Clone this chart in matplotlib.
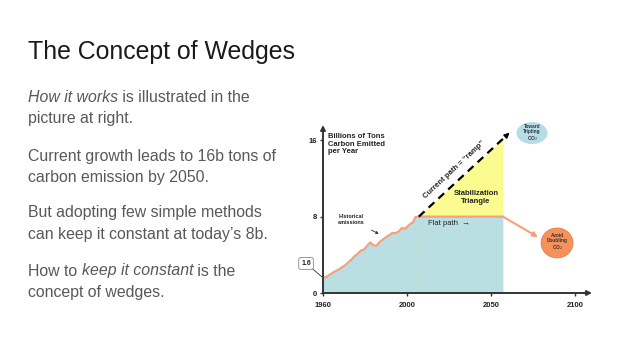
import numpy as np
import matplotlib
matplotlib.use('Agg')
from matplotlib import pyplot as plt
from matplotlib.patches import Ellipse

plt.rcParams['font.family'] = ['Liberation Sans', 'DejaVu Sans']

W, H = 638, 359

# Historical emissions (billions of tons carbon / year)
hist_years = [1960, 1961.5, 1963, 1964.5, 1966, 1967.5, 1969, 1970.5, 1972, 1973.5,
              1975, 1976.5, 1978, 1979.5, 1981, 1982.5, 1984, 1985.5, 1987, 1988.5,
              1990, 1991.5, 1993, 1994.5, 1996, 1997.5, 1999, 2000.5, 2002, 2003.5,
              2005, 2007]
hist_vals = [1.6, 1.65, 1.9, 2.1, 2.3, 2.45, 2.7, 2.9, 3.2, 3.5,
             3.85, 4.1, 4.45, 4.55, 4.95, 5.3, 5.0, 4.95, 5.35, 5.6,
             5.85, 6.05, 6.3, 6.25, 6.45, 6.8, 6.75, 7.0, 7.25, 7.4,
             7.95, 8.0]

flat_years = [2007, 2057]
flat_vals = [8, 8]
ramp_years = [2007, 2061]
ramp_vals = [8, 16.8]

x_ticks = [1960, 2000, 2050, 2100]
y_ticks = [0, 8, 16]

left_lines = [
    ([("How it works", 'italic'), (" is illustrated in the", 'normal')], 101.7),
    ([("picture at right.", 'normal')], 123.5),
    ([("Current growth leads to 16b tons of", 'normal')], 160.5),
    ([("carbon emission by 2050.", 'normal')], 182),
    ([("But adopting few simple methods", 'normal')], 217.5),
    ([("can keep it constant at today\u2019s 8b.", 'normal')], 239.5),
    ([("How to ", 'normal'), ("keep it constant", 'italic'), (" is the", 'normal')], 275.5),
    ([("concept of wedges.", 'normal')], 297.5),
]

fig = plt.figure(figsize=(W / 100, H / 100), dpi=100)

# background axes in pixel coordinates for slide text
bg = fig.add_axes([0, 0, 1, 1])
bg.set_xlim(0, W)
bg.set_ylim(H, 0)
bg.axis('off')

bg.text(28, 59.5, "The Concept of Wedges", fontsize=17.9, color='#1a1a1a', va='baseline')

for segs, base in left_lines:
    prev = None
    for txt, style in segs:
        if prev is None:
            prev = bg.text(28, base, txt, fontsize=11.4, color='#595959',
                           style=style, va='baseline')
        else:
            prev = bg.annotate(txt, xy=(1, 0), xycoords=prev, fontsize=11.4,
                               color='#595959', style=style, va='bottom', ha='left')

# chart axes
ax = fig.add_axes([323 / W, 66 / H, 269 / W, 168 / H])


def fwd(y):
    y = np.asarray(y, float)
    return np.where(y < 2000, (y - 1960) / 40, 1 + (y - 2000) / 50)


def inv(p):
    p = np.asarray(p, float)
    return np.where(p < 1, 1960 + 40 * p, 2000 + 50 * (p - 1))


ax.set_xscale('function', functions=(fwd, inv))
ax.set_xlim(1960, 2110)
ax.set_ylim(0, 17.6)
for s in ax.spines.values():
    s.set_visible(False)
ax.patch.set_alpha(0)

blue = '#b9dfe3'
yellow = '#fbfb90'
orange = '#f2a27c'

fill_x = hist_years + flat_years[1:]
fill_y = hist_vals + flat_vals[1:]
ax.fill_between(fill_x, 0, fill_y, color=blue, lw=0, zorder=1)

slope = (ramp_vals[1] - ramp_vals[0]) / (ramp_years[1] - ramp_years[0])
tri_x = np.array(flat_years, float)
tri_top = ramp_vals[0] + slope * (tri_x - ramp_years[0])
ax.fill_between(tri_x, flat_vals, tri_top, color=yellow, lw=0, zorder=1)

ax.plot(hist_years + flat_years[1:], hist_vals + flat_vals[1:], color=orange,
        lw=1.6, zorder=3, solid_joinstyle='round')
ax.plot([flat_years[0], flat_years[0]], [0, flat_vals[0]], color='#e4e070',
        lw=1, ls=':', zorder=2)

# ramp (dashed) with arrowhead
ramp_end = ramp_years[1] - 1.5
ax.plot([ramp_years[0], ramp_end],
        [ramp_vals[0], ramp_vals[0] + slope * (ramp_end - ramp_years[0])],
        color='black', lw=1.6, dashes=(3.5, 2.5), zorder=3)
ax.annotate('', xy=(ramp_years[1], ramp_vals[1]),
            xytext=(ramp_end, ramp_vals[0] + slope * (ramp_end - ramp_years[0])),
            arrowprops=dict(arrowstyle='-|>', color='black', lw=1.2,
                            mutation_scale=7, shrinkA=0, shrinkB=0), zorder=3)

# axes arrows
axc = '#333333'
ax.annotate('', xy=(1, 0), xytext=(0, 0), xycoords='axes fraction',
            arrowprops=dict(arrowstyle='-|>', color=axc, lw=1.4,
                            mutation_scale=7, shrinkA=0, shrinkB=0),
            annotation_clip=False, zorder=5)
ax.annotate('', xy=(0, 1), xytext=(0, 0), xycoords='axes fraction',
            arrowprops=dict(arrowstyle='-|>', color=axc, lw=1.4,
                            mutation_scale=7, shrinkA=0, shrinkB=0),
            annotation_clip=False, zorder=5)

ax.set_xticks(x_ticks)
ax.set_xticklabels([str(t) for t in x_ticks], fontsize=5.5, fontweight='bold', color='#222')
ax.set_yticks(y_ticks)
ax.set_yticklabels([str(t) for t in y_ticks], fontsize=5.5, fontweight='bold', color='#222')
ax.tick_params(axis='both', length=2.5, width=1, color=axc, pad=2)
ax.tick_params(axis='x', pad=4)

tk = dict(fontsize=5.5, fontweight='bold', color='#222')
ax.text(0.02, 0.95, "Billions of Tons\nCarbon Emitted\nper Year", transform=ax.transAxes,
        va='top', ha='left', linespacing=1.05, **tk)
ax.text(2028, 12.9, "Current path = \u201cramp\u201d", rotation=43, rotation_mode='anchor',
        ha='center', va='center', **tk)
ax.text(2041, 10.0, "Stabilization\nTriangle", ha='center', va='center',
        linespacing=1.1, **tk)
ax.text(2012.3, 7.3, "Flat path  \u2192", ha='left', va='center', fontsize=5.5, color='#222')

ax.annotate("Historical\nemissions", xy=(1986.5, 6.2), xytext=(1973.5, 7.7),
            ha='center', va='center', fontsize=4, fontweight='bold', color='#222',
            linespacing=1.1,
            arrowprops=dict(arrowstyle='->', color='#222', lw=0.6,
                            shrinkA=4, shrinkB=0, mutation_scale=4))

ax.annotate("1.6", xy=(1960, 1.6), xytext=(-0.063, 0.176), textcoords='axes fraction',
            ha='center', va='center', fontsize=5, fontweight='bold', color='#222',
            bbox=dict(boxstyle='round,pad=0.35,rounding_size=0.3', fc='white',
                      ec='#888', lw=0.6),
            arrowprops=dict(arrowstyle='-', color='#333', lw=0.6, shrinkA=0, shrinkB=1),
            annotation_clip=False)

# target ellipses
ax.add_patch(Ellipse((0.777, 0.952), 31 / 269, 22 / 168, transform=ax.transAxes,
                     fc='#b4dde6', ec='none', clip_on=False, zorder=4))
ax.text(0.777, 0.952, "Toward\nTripling\nCO$_2$", transform=ax.transAxes, ha='center',
        va='center', fontsize=3.4, fontweight='bold', color='#333', linespacing=1.0,
        zorder=5)
ax.add_patch(Ellipse((0.870, 0.298), 32 / 269, 30 / 168, transform=ax.transAxes,
                     fc='#f6915c', ec='#e07a45', lw=0.5, clip_on=False, zorder=4))
ax.text(0.870, 0.298, "Avoid\nDoubling\nCO$_2$", transform=ax.transAxes, ha='center',
        va='center', fontsize=3.4, fontweight='bold', color='#333', linespacing=1.0,
        zorder=5)

ax.annotate('', xy=(0.799, 0.333), xycoords='axes fraction',
            xytext=(flat_years[1], flat_vals[1]), textcoords='data',
            arrowprops=dict(arrowstyle='-|>', color=orange, lw=1.5,
                            mutation_scale=7, shrinkA=0, shrinkB=0),
            annotation_clip=False, zorder=3)

fig.savefig('out.png', dpi=100)
